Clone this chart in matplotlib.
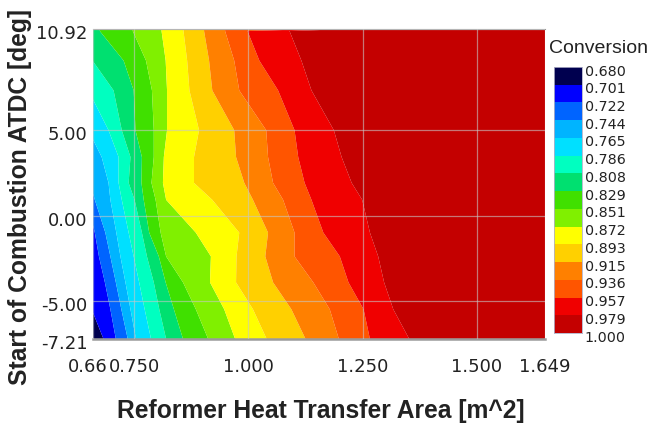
import numpy as np
import matplotlib
matplotlib.use("Agg")
import matplotlib.pyplot as plt
from matplotlib.colors import ListedColormap, BoundaryNorm
from matplotlib.transforms import ScaledTranslation

levels = [0.680, 0.701, 0.722, 0.744, 0.765, 0.786, 0.808, 0.829, 0.851,
          0.872, 0.893, 0.915, 0.936, 0.957, 0.979, 1.000]
band_colors = ["#00004f", "#0000ff", "#0064ff", "#00b4ff", "#00e0ff", "#00ffc0",
               "#00e070", "#40e000", "#80f000", "#ffff00", "#ffd000", "#ff8000",
               "#ff5500", "#f00000", "#c40000"]

soc_rows = [10.92, 10.80, 9.07, 7.33, 5.00, 3.43, 1.92, 0.93, -0.99, -2.38, -3.90, -5.47, -7.21]

# area at which conversion reaches each level, one value per start-of-combustion row
area_0680 = [0.40] * 13
area_0701 = [.430, .430, .474, .518, .562, .584, .598, .609, .624, .635, .646, .657, .683]
area_0722 = [.459, .459, .503, .547, .591, .613, .631, .646, .664, .673, .686, .698, .710]
area_0744 = [.481, .481, .525, .569, .613, .635, .653, .664, .687, .698, .710, .722, .736]
area_0765 = [.503, .503, .547, .591, .650, .679, .694, .698, .711, .720, .731, .742, .754]
area_0786 = [.562, .562, .606, .650, .694, .716, .716, .723, .738, .749, .761, .773, .787]
area_0808 = [.598, .598, .659, .705, .723, .742, .738, .751, .767, .778, .793, .805, .820]
area_0829 = [.675, .675, .727, .749, .753, .767, .766, .771, .783, .804, .819, .837, .857]
area_0851 = [.747, .747, .776, .789, .793, .793, .788, .797, .808, .820, .857, .885, .912]
area_0872 = [.810, .810, .819, .822, .822, .815, .813, .820, .885, .918, .916, .947, .971]
area_0893 = [.858, .858, .866, .871, .892, .881, .881, .921, .980, .974, .973, 1.010, 1.040]
area_0915 = [.903, .903, .914, .921, .969, .973, .991, 1.010, 1.043, 1.037, 1.054, 1.094, 1.125]
area_0936 = [.949, .949, .969, .980, 1.039, 1.043, 1.054, 1.076, 1.101, 1.101, 1.142, 1.178, 1.198]
area_0957 = [1.149, .998, 1.024, 1.065, 1.101, 1.109, 1.123, 1.138, 1.164, 1.200, 1.219, 1.252, 1.266]
area_0979 = [1.222, 1.090, 1.116, 1.138, 1.187, 1.204, 1.226, 1.249, 1.266, 1.284, 1.297, 1.317, 1.352]
area_1000 = [1.70] * 13

x_ticks = [0.66, 0.75, 1.0, 1.25, 1.5, 1.649]
x_labels = ["0.66", "0.750", "1.000", "1.250", "1.500", "1.649"]
y_ticks = [-7.21, -5.0, 0.0, 5.0, 10.92]
y_labels = ["-7.21", "-5.00", "0.00", "5.00", "10.92"]

X = np.column_stack([area_0680, area_0701, area_0722, area_0744, area_0765,
                     area_0786, area_0808, area_0829, area_0851, area_0872,
                     area_0893, area_0915, area_0936, area_0957, area_0979, area_1000])
Y = np.tile(np.array(soc_rows)[:, None], (1, len(levels)))
Z = np.tile(np.array(levels), (len(soc_rows), 1))

W, H = 651, 426
fig = plt.figure(figsize=(W / 100, H / 100), dpi=100)
ax = fig.add_axes([93 / W, 1 - 339 / H, (545 - 93) / W, (339 - 29) / H])

cmap = ListedColormap(band_colors)
norm = BoundaryNorm(levels, cmap.N)
cs = ax.contourf(X, Y, Z, levels=levels, cmap=cmap, norm=norm, antialiased=True)

ax.set_xlim(0.66, 1.649)
ax.set_ylim(-7.21, 10.92)
ax.set_xticks(x_ticks, x_labels, fontsize=13, family="DejaVu Sans", color="#222222")
ax.set_yticks(y_ticks, y_labels, fontsize=13, family="DejaVu Sans", color="#222222")
ax.tick_params(length=0, pad=4)
ax.tick_params(axis="x", pad=14)
ax.grid(True, color="#c8c8c8", lw=0.9, alpha=0.6)
ax.set_axisbelow(False)
for name, sp in ax.spines.items():
    sp.set_color("#9a9a9a")
    sp.set_linewidth(0.8)
ax.spines["bottom"].set_linewidth(1.8)
ax.spines["left"].set_visible(False)
ax.spines["right"].set_visible(False)

px = fig.dpi_scale_trans
for lab in ax.get_yticklabels():
    lab.set_transform(lab.get_transform() + ScaledTranslation(0, -0.03, px))
xl = ax.get_xticklabels()
xl[0].set_transform(xl[0].get_transform() + ScaledTranslation(-0.05, 0, px))

# colour key
cax = fig.add_axes([554 / W, 1 - 333 / H, (582 - 554) / W, (333 - 67) / H])
key_positions = np.arange(len(levels))
for i, c in enumerate(band_colors):
    cax.barh(i, 1, height=1, left=0, align="edge", color=c, lw=0)
cax.set_xlim(0, 1)
cax.set_ylim(len(band_colors), 0)
cax.set_xticks([])
cax.yaxis.tick_right()
cax.set_yticks(key_positions, [f"{v:.3f}" for v in levels], fontsize=10.3,
               family="DejaVu Sans", color="#222222")
cax.tick_params(length=0, pad=2)
for lab in cax.get_yticklabels():
    lab.set_transform(lab.get_transform() + ScaledTranslation(0, -0.03, px))
for sp in cax.spines.values():
    sp.set_color("#b0b0c8")
    sp.set_linewidth(0.6)

fig.text(599 / W, 1 - 48.5 / H, "Conversion", fontsize=14, family="Liberation Sans",
         ha="center", va="center", color="#222222")
fig.text(321 / W, 1 - 411 / H, "Reformer Heat Transfer Area [m^2]", fontsize=17.7,
         family="Liberation Sans", fontweight="bold", ha="center", va="center", color="#222222")
fig.text(20 / W, 1 - 197 / H, "Start of Combustion ATDC [deg]", fontsize=17.7,
         family="Liberation Sans", fontweight="bold", rotation=90, ha="center", va="center",
         color="#222222")

fig.savefig("out.png", dpi=100)
